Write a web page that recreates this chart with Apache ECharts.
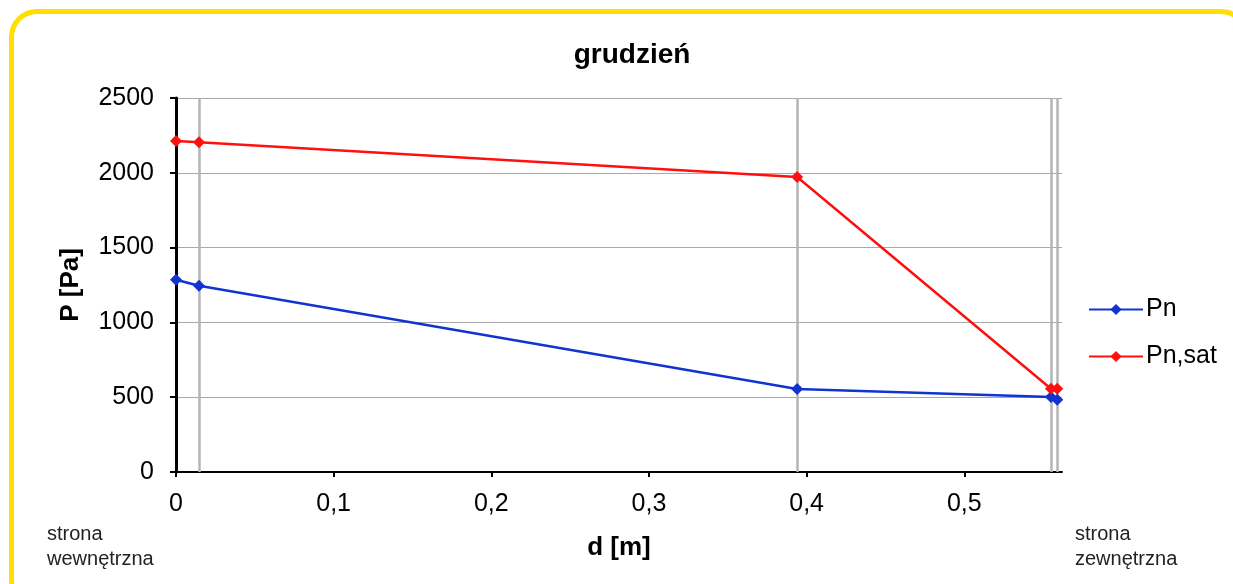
<!DOCTYPE html>
<html>
<head>
<meta charset="utf-8">
<script src="https://cdn.jsdelivr.net/npm/echarts@6/dist/echarts.min.js"></script>
<style>
  html, body { margin: 0; padding: 0; background: #fff; overflow: hidden; }
  #frame {
    position: absolute; left: 9px; top: 9px; width: 1240px; height: 600px;
    border: 5px solid #FFDE00; border-radius: 28px; box-sizing: border-box;
  }
  #main { position: absolute; left: 0; top: 0; width: 1233px; height: 584px; }
</style>
</head>
<body>
<div id="frame"></div>
<div id="main"></div>
<script>
// grubość przegrody [m]
var dValues = [0, 0.0146, 0.394, 0.555, 0.559];
// ciśnienie cząstkowe pary [Pa]
var pn = [1285, 1245, 555, 502, 483];
var pnSat = [2213, 2205, 1972, 557, 556];
// granice warstw
var boundaries = [0.0146, 0.394, 0.555, 0.559];

var chart = echarts.init(document.getElementById('main'));
var font = 'Liberation Sans, Arial, sans-serif';

function pairs(xs, ys) {
  return xs.map(function (x, i) { return [x, ys[i]]; });
}

var option = {
  animation: false,
  textStyle: { fontFamily: font },
  title: {
    text: 'grudzień',
    left: 627, top: 36, textAlign: 'center',
    textStyle: { fontSize: 28, fontWeight: 'bold', color: '#000', fontFamily: font }
  },
  grid: { left: 176, right: 171, top: 98, bottom: 112 },
  legend: {
    orient: 'vertical', left: 1083, top: 292, itemGap: 22,
    itemWidth: 54, itemHeight: 14,
    textStyle: { fontSize: 25, color: '#000', fontFamily: font, padding: [0, 0, 0, -2] },
    data: ['Pn', 'Pn,sat']
  },
  xAxis: {
    type: 'value', min: 0, max: 0.562, interval: 0.1,
    name: 'd [m]', nameLocation: 'middle', nameGap: 63,
    nameTextStyle: { fontSize: 26, fontWeight: 'bold', color: '#000' },
    axisLine: { show: true, lineStyle: { color: '#000', width: 2 } },
    axisTick: { show: true, length: 5, lineStyle: { color: '#000', width: 2 } },
    splitLine: { show: false },
    axisLabel: {
      fontSize: 25, color: '#000', margin: 20, showMaxLabel: false,
      formatter: function (v) { return String(v).replace('.', ','); }
    }
  },
  yAxis: {
    type: 'value', min: 0, max: 2500, interval: 500,
    name: 'P [Pa]', nameLocation: 'middle', nameGap: 92, nameRotate: 90,
    nameTextStyle: { fontSize: 26, fontWeight: 'bold', color: '#000' },
    axisLine: { show: true, lineStyle: { color: '#000', width: 3 } },
    axisTick: { show: true, length: 6, lineStyle: { color: '#000', width: 2 } },
    splitLine: { lineStyle: { color: '#a8a8a8', width: 1 } },
    axisLabel: {
      fontSize: 25, color: '#000', margin: 22,
      formatter: function (v) { return String(v); }
    }
  },
  series: [
    {
      name: 'Pn', type: 'line', data: pairs(dValues, pn),
      symbol: 'diamond', symbolSize: 12, z: 5,
      lineStyle: { color: '#1034D0', width: 2.5 },
      itemStyle: { color: '#1034D0' },
      markLine: {
        silent: true, symbol: 'none', precision: 4, label: { show: false },
        lineStyle: { color: '#b4b4b4', width: 2.5, type: 'solid' },
        data: boundaries.map(function (b) { return { xAxis: b }; })
      }
    },
    {
      name: 'Pn,sat', type: 'line', data: pairs(dValues, pnSat),
      symbol: 'diamond', symbolSize: 12, z: 5,
      lineStyle: { color: '#FF1010', width: 2.5 },
      itemStyle: { color: '#FF1010' }
    }
  ],
  graphic: [
    {
      type: 'text', left: 47, top: 522,
      style: { text: 'strona\nwewnętrzna', fontSize: 20, lineHeight: 25, fill: '#222', fontFamily: font }
    },
    {
      type: 'text', left: 1075, top: 522,
      style: { text: 'strona\nzewnętrzna', fontSize: 20, lineHeight: 25, fill: '#222', fontFamily: font }
    }
  ]
};

chart.setOption(option);
</script>
</body>
</html>
